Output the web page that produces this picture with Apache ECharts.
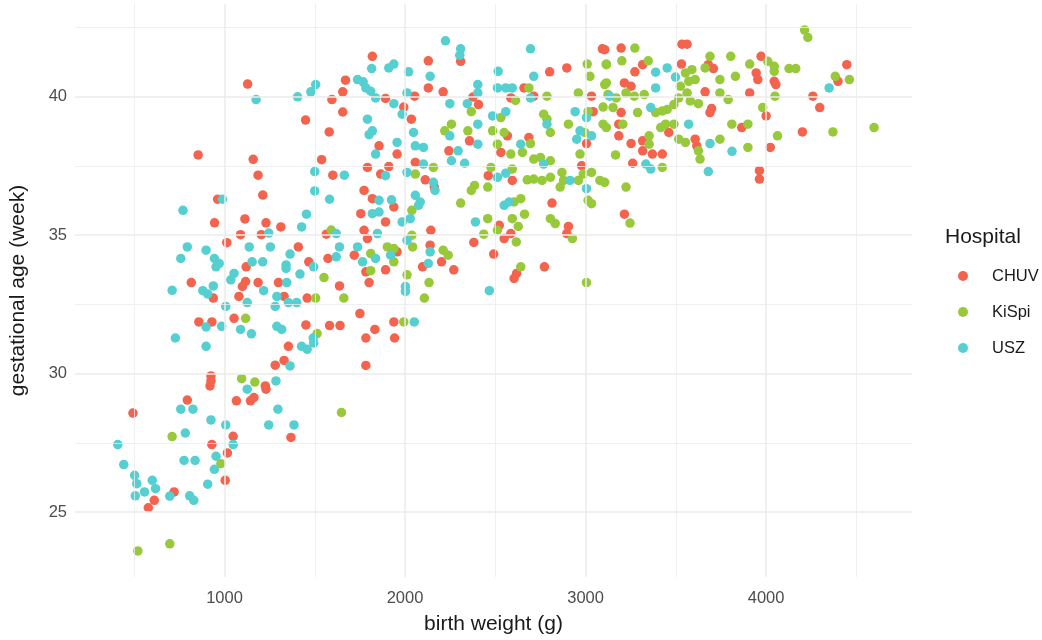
<!DOCTYPE html>
<html>
<head>
<meta charset="utf-8">
<script src="https://cdn.jsdelivr.net/npm/echarts@6/dist/echarts.min.js"></script>
<style>
  html, body { margin: 0; padding: 0; background: #ffffff; }
  #chart { width: 1042px; height: 640px; }
</style>
</head>
<body>
<div id="chart"></div>
<script>
// Hospitals and their colours
const hospitals = ['CHUV', 'KiSpi', 'USZ'];
const hospitalColors = ['#F3634D', '#98C93A', '#55CFD0'];

// Axis ticks: labelled (major) and unlabelled (minor) grid positions
const xTicks = [1000, 2000, 3000, 4000];
const xMinor = [500, 1500, 2500, 3500, 4500];
const yTicks = [25, 30, 35, 40];
const yMinor = [27.5, 32.5, 37.5, 42.5];

// Each record: [birth weight (g), gestational age (week)]
const chuv = [
  [1128,40.46],[1595,39.9],[1655,40.18],[1670,40.6],[1655,39.45],[1449,39.16],[1580,38.73],[854,37.9],
  [1159,37.74],[1538,37.73],[1186,37.17],[1600,37.17],[1212,36.45],[962,36.3],[945,35.45],[1113,35.59],
  [1230,35.45],[1312,35.3],[1089,35.02],[1204,35.02],[1013,34.73],[1409,34.58],[1564,35.04],[1573,34.16],
  [1467,34.04],[1120,33.86],[1117,33.33],[1099,33.15],[1186,33.29],[1299,33.29],[1637,33.17],[816,33.29],
  [938,32.73],[1080,32.79],[1330,32.79],[1458,32.73],[858,31.87],[930,31.87],[1053,32.0],[1451,31.76],
  [1582,31.74],[1640,31.74],[1354,30.99],[1281,30.31],[1330,30.48],[925,29.92],[925,29.74],[1226,29.56],
  [920,29.56],[1230,29.44],[1163,29.14],[1144,29.02],[1066,29.02],[1368,27.7],[493,28.58],[794,29.05],
  [1048,27.74],[930,27.44],[1016,27.14],[1004,26.15],[721,25.73],[611,25.43],[578,25.16],
  [1755,35.78],[1773,35.18],[1792,34.88],[1892,35.48],[1938,36.02],[1719,34.28],[1783,33.68],[1801,33.29],
  [1892,33.75],[1956,34.4],[2143,35.18],[2139,34.64],[2202,34.04],[2097,33.86],[2270,33.75],[1750,32.17],
  [1833,31.6],[1783,31.29],[1938,31.87],[1942,31.29],[1783,30.3],[2381,34.74],[2491,34.32],[2522,35.36],
  [2549,34.88],[2586,35.06],[2618,33.62],[2604,33.44],[2772,33.86],[2814,36.16],[2905,35.32],[2896,35.06],
  [3215,35.76],[2308,41.28],[3093,41.73],[1819,41.46],[2129,41.3],[2129,40.32],[2211,40.18],[1892,39.94],
  [1993,39.63],[2035,39.19],[2053,40.02],[1856,38.23],[1956,37.93],[2057,37.63],[1792,37.45],[1910,37.48],
  [1865,37.21],[2112,37.0],[1773,36.62],[1819,36.32],[2162,36.74],[2376,39.99],[2407,39.72],[2659,40.32],
  [2801,40.9],[2896,41.04],[3033,40.02],[2713,40.02],[2586,39.96],[3042,39.46],[3005,38.31],[2357,38.41],
  [2243,38.05],[2567,38.59],[2531,37.99],[2686,38.53],[2461,37.15],[2594,36.98],[2978,37.51],
  [4447,41.16],[4398,40.56],[4259,40.02],[4297,39.61],[4201,38.73],[3534,41.9],[3562,41.9],[3197,41.76],
  [3106,41.7],[3273,40.9],[3316,41.16],[3531,41.18],[3680,41.16],[3708,41.02],[3972,41.46],[3945,40.86],
  [3954,40.62],[4045,40.56],[4054,40.44],[3909,40.14],[4000,39.31],[3662,40.18],[3698,39.58],[3689,39.43],
  [3215,40.5],[3252,40.38],[3197,39.43],[3184,39.01],[3184,38.59],[3252,38.31],[3316,38.41],[3316,38.05],
  [3461,38.71],[3425,37.93],[3370,37.93],[3261,37.6],[3607,38.47],[3616,38.23],[4023,38.17],[3963,37.33],
  [3963,37.03],[3865,38.89]
];

const kispi = [
  [1591,35.19],[1551,33.47],[1505,32.73],[1661,32.73],[1117,32.0],[1513,31.45],[1095,29.82],[1168,29.7],
  [1648,28.6],[710,27.73],[980,26.75],[520,23.6],[697,23.86],[2038,35.9],[1810,34.34],[1810,33.72],
  [1902,34.58],[1938,34.52],[1938,34.04],[2038,35.0],[2042,34.58],[2211,34.46],[2239,34.28],[2011,33.57],
  [2133,33.29],[2107,32.73],[1993,31.87],[2308,36.16],[2458,35.6],[2436,35.04],[2604,36.2],[2641,36.32],
  [2594,35.6],[2662,35.76],[2512,35.18],[2627,35.32],[2616,34.76],[2641,33.86],[2805,35.6],[2832,35.42],
  [2927,34.88],[3005,33.29],[3014,36.26],[3033,36.14],[3246,35.44],
  [3009,41.18],[3115,41.18],[3024,40.74],[3106,40.44],[3124,40.08],[2960,40.14],[2786,40.02],[2612,39.87],
  [2686,40.32],[2531,39.25],[2768,39.37],[2786,39.19],[2805,38.71],[2905,39.01],[3014,39.46],[3097,39.63],
  [3097,39.01],[2996,38.71],[2969,37.93],[2220,38.77],[2257,39.01],[2348,38.77],[2367,39.46],[2485,38.77],
  [2549,38.71],[2512,38.29],[2586,37.93],[2695,38.31],[2650,37.99],[2713,37.75],[2750,37.81],[2805,37.69],
  [2476,37.45],[2594,37.39],[2677,37.0],[2713,37.03],[2759,36.98],[2805,37.09],[2869,37.27],[2878,36.98],
  [2960,36.98],[2987,37.21],[3033,37.27],[3079,36.98],[2859,36.74],[2367,36.62],[2385,36.8],[2458,36.74],
  [2057,37.21],[2157,37.45],
  [4213,42.41],[4231,42.14],[4383,40.74],[4461,40.62],[4370,38.73],[4598,38.89],[3273,41.76],[3115,41.16],
  [3201,41.3],[3347,41.3],[3553,40.86],[3589,40.98],[3571,40.56],[3607,40.62],[3662,41.04],[3689,41.46],
  [3804,41.46],[3744,40.62],[3830,40.74],[3909,41.18],[4009,41.28],[4045,41.1],[4045,40.92],[4127,41.02],
  [4164,41.02],[4049,40.02],[3981,39.61],[3744,40.14],[3790,39.9],[3625,39.75],[3525,40.38],[3516,39.96],
  [3562,40.14],[3580,39.85],[3489,39.72],[3452,39.54],[3325,40.08],[3270,40.02],[3224,40.14],[3170,39.96],
  [3115,40.5],[3152,39.61],[3288,39.43],[3388,39.43],[3425,39.49],[3489,39.01],[3206,39.01],[3115,38.89],
  [3352,38.59],[3352,38.29],[3416,38.89],[3443,39.01],[3425,37.45],[3166,37.9],[3106,36.91],[3224,36.74],
  [3516,38.47],[3553,38.35],[3625,38.05],[3634,37.75],[3744,38.47],[3899,38.17],[4063,38.59],[3810,39.01],
  [3899,39.01]
];

const usz = [
  [1175,39.9],[1405,40.0],[1478,40.18],[1505,40.44],[1500,37.3],[1664,37.17],[1500,36.6],[1582,36.3],
  [989,36.3],[770,35.9],[1454,35.76],[1427,35.3],[1245,35.08],[1137,34.58],[1254,34.58],[794,34.58],
  [758,34.16],[898,34.46],[944,34.16],[971,33.98],[953,33.86],[1363,34.32],[1341,33.93],[1341,33.8],
  [1494,33.86],[1619,35.06],[1637,34.58],[1619,34.22],[1212,34.04],[1153,34.04],[1053,33.62],[1035,33.39],
  [1345,33.29],[1418,33.6],[710,33.01],[880,33.0],[907,32.88],[938,33.17],[1126,32.57],[1007,32.43],
  [1217,33.0],[1290,32.79],[1281,32.43],[1354,32.57],[1400,32.57],[898,31.69],[984,31.71],[1089,31.6],
  [1149,31.44],[1290,31.71],[1317,31.6],[1491,31.29],[1494,31.11],[1427,30.99],[1458,30.88],[728,31.29],
  [898,30.99],[1363,30.28],[1285,29.74],[1126,29.44],[1296,28.72],[1245,28.15],[1385,28.15],[758,28.72],
  [825,28.72],[925,28.33],[1007,28.15],[783,27.86],[1048,27.44],[953,27.02],[944,26.55],[907,26.01],
  [409,27.44],[442,26.72],[776,26.87],[837,26.87],[502,26.33],[514,26.03],[600,26.15],[618,25.85],
  [557,25.73],[506,25.59],[697,25.58],[807,25.59],[830,25.43],
  [1819,35.78],[1856,35.84],[1847,35.06],[1984,35.48],[2029,35.6],[2075,36.08],[1737,34.58],[1765,34.04],
  [1837,34.16],[1920,34.28],[2011,34.82],[2139,34.4],[2129,33.98],[2002,33.15],[2002,32.97],[2051,31.87],
  [2390,35.48],[2467,33.0],[2549,36.08],
  [2224,42.02],[2308,41.73],[2303,41.5],[2695,41.73],[1815,41.02],[1910,41.04],[1938,41.18],[2020,40.9],
  [2139,40.74],[1737,40.62],[1768,40.54],[1783,40.32],[1810,40.2],[1837,39.96],[1938,39.75],[1984,39.37],
  [2011,40.14],[1792,39.19],[1819,38.77],[1801,38.63],[1837,37.93],[1956,38.35],[2047,38.71],[2057,38.23],
  [2102,38.17],[2102,37.57],[1892,37.15],[2011,37.27],[2157,36.91],[1856,36.26],[1925,36.28],[2166,36.62],
  [2057,36.44],[2084,36.2],[2248,39.75],[2345,39.75],[2403,40.44],[2403,40.14],[2516,40.92],[2512,40.32],
  [2558,40.32],[2594,40.32],[2713,40.74],[2695,39.96],[2485,39.31],[2558,39.46],[2786,39.01],[2942,39.46],
  [3005,39.25],[2969,38.77],[3033,38.59],[2951,38.47],[2248,38.59],[2403,39.01],[2403,38.29],[2294,38.05],
  [2257,37.69],[2330,37.6],[2641,38.29],[2768,37.57],[2512,37.09],[2558,37.24],[2914,36.98],[3005,36.68],
  [2576,36.2],
  [4349,40.32],[3388,40.89],[3452,41.04],[3498,40.71],[3388,40.32],[3361,39.61],[3133,40.02],[3571,39.01],
  [3334,37.57],[3361,37.39],[3689,38.31],[3680,37.3],[3811,38.03]
];

const seriesData = [chuv, kispi, usz];

const FONT = '"Liberation Sans", Arial, Helvetica, sans-serif';
const chart = echarts.init(document.getElementById('chart'), null, { renderer: 'canvas' });

// Light grid drawn as mark lines so it sits on exact data values
const gridLine = (axisKey, v, width) => ({
  [axisKey]: v,
  lineStyle: { color: '#ebebeb', width: width, type: 'solid' }
});
const gridLines = []
  .concat(xMinor.map(v => gridLine('xAxis', v, 0.8)))
  .concat(yMinor.map(v => gridLine('yAxis', v, 0.8)))
  .concat(xTicks.map(v => gridLine('xAxis', v, 1.5)))
  .concat(yTicks.map(v => gridLine('yAxis', v, 1.5)));

const plainNumber = v => String(v);

const option = {
  animation: false,
  backgroundColor: '#ffffff',
  textStyle: { fontFamily: FONT },
  title: {
    text: 'Hospital',
    left: 945,
    top: 227,
    padding: 0,
    textStyle: { fontFamily: FONT, fontSize: 21, fontWeight: 'normal', color: '#1a1a1a' }
  },
  legend: {
    data: hospitals,
    orient: 'vertical',
    left: 958,
    top: 266,
    padding: 0,
    itemWidth: 10,
    itemHeight: 10,
    itemGap: 16,
    icon: 'circle',
    selectedMode: false,
    textStyle: {
      fontFamily: FONT, fontSize: 16.5, color: '#1a1a1a',
      lineHeight: 20, padding: [0, 0, 0, 19]
    }
  },
  grid: { left: 68, right: 130, top: 4, bottom: 56, containLabel: false },
  xAxis: {
    type: 'value',
    min: 172,
    max: 4808,
    name: 'birth weight (g)',
    nameLocation: 'middle',
    nameGap: 37,
    nameTextStyle: { fontFamily: FONT, fontSize: 21, color: '#1a1a1a' },
    axisLine: { show: false },
    axisTick: { show: false },
    splitLine: { show: false },
    axisLabel: {
      customValues: xTicks,
      formatter: plainNumber,
      margin: 13,
      fontFamily: FONT, fontSize: 16.5, color: '#4d4d4d'
    }
  },
  yAxis: {
    type: 'value',
    min: 22.66,
    max: 43.35,
    name: 'gestational age (week)',
    nameLocation: 'middle',
    nameGap: 46,
    nameTextStyle: { fontFamily: FONT, fontSize: 21, color: '#1a1a1a' },
    axisLine: { show: false },
    axisTick: { show: false },
    splitLine: { show: false },
    axisLabel: {
      customValues: yTicks,
      formatter: plainNumber,
      margin: 8,
      fontFamily: FONT, fontSize: 16.5, color: '#4d4d4d'
    }
  },
  series: [
    {
      type: 'scatter',
      name: '__grid',
      data: [],
      z: 1,
      silent: true,
      markLine: {
        silent: true,
        symbol: ['none', 'none'],
        label: { show: false },
        emphasis: { disabled: true },
        animation: false,
        data: gridLines
      }
    }
  ].concat(hospitals.map((h, i) => ({
    type: 'scatter',
    name: h,
    data: seriesData[i],
    z: 2,
    symbol: 'circle',
    symbolSize: 9.5,
    itemStyle: { color: hospitalColors[i], opacity: 1 },
    emphasis: { disabled: true }
  })))
};

chart.setOption(option);
</script>
</body>
</html>
